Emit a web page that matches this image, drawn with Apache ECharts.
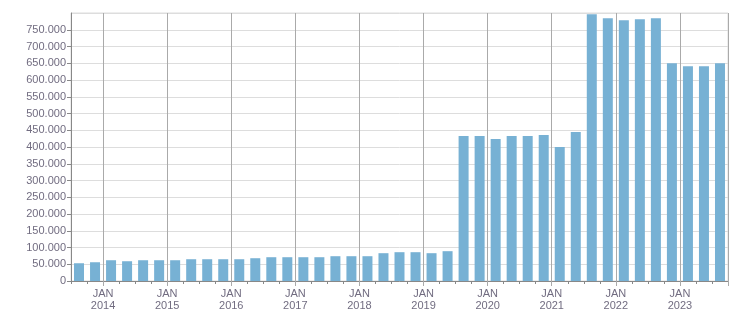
<!DOCTYPE html>
<html>
<head>
<meta charset="utf-8">
<script src="https://cdn.jsdelivr.net/npm/echarts@6/dist/echarts.min.js"></script>
<style>
html,body{margin:0;padding:0;background:#fff;}
#chart{width:751px;height:313px;}
</style>
</head>
<body>
<div id="chart"></div>
<script>
// Quarterly categories (2013 Q3 .. 2023 Q3)
var categories = [
  '2013 Q3','2013 Q4',
  '2014 Q1','2014 Q2','2014 Q3','2014 Q4',
  '2015 Q1','2015 Q2','2015 Q3','2015 Q4',
  '2016 Q1','2016 Q2','2016 Q3','2016 Q4',
  '2017 Q1','2017 Q2','2017 Q3','2017 Q4',
  '2018 Q1','2018 Q2','2018 Q3','2018 Q4',
  '2019 Q1','2019 Q2','2019 Q3','2019 Q4',
  '2020 Q1','2020 Q2','2020 Q3','2020 Q4',
  '2021 Q1','2021 Q2','2021 Q3','2021 Q4',
  '2022 Q1','2022 Q2','2022 Q3','2022 Q4',
  '2023 Q1','2023 Q2','2023 Q3'
];
var values = [
  53000, 56000,
  62000, 59000, 62000, 62000,
  62000, 65000, 65000, 65000,
  65000, 68000, 71000, 71000,
  71000, 71000, 74000, 74000,
  74000, 83000, 86000, 86000,
  83000, 89000, 433000, 433000,
  424000, 433000, 433000, 436000,
  400000, 445000, 796000, 784000,
  778000, 781000, 784000, 650000,
  641000, 641000, 650000
];
var monthLabel = 'JAN';
var yMax = 800000;
var yStep = 50000;

function isQ1(v){ return /Q1$/.test(v); }
function fmt(n){ return String(n).replace(/\B(?=(\d{3})+(?!\d))/g, '.'); }

var textColor = '#716c80';
var chart = echarts.init(document.getElementById('chart'), null, {renderer:'canvas'});
chart.setOption({
  animation: false,
  backgroundColor: '#ffffff',
  grid: {left: 71, right: 23, top: 13, bottom: 32, show: true, borderColor: '#dddddd', borderWidth: 1, containLabel: false},
  xAxis: [{
    type: 'category',
    data: categories,
    boundaryGap: true,
    axisLine: {lineStyle: {color: '#888888', width: 1}},
    axisTick: {show: true, interval: 0, length: 3, lineStyle: {color: '#888888'}},
    axisLabel: {
      show: true,
      interval: function(i, v){ return isQ1(v); },
      formatter: function(v){ return monthLabel + '\n' + v.slice(0,4); },
      color: textColor,
      fontFamily: 'Liberation Sans',
      fontSize: 11,
      lineHeight: 12,
      margin: 7,
      padding: [0, 16, 0, 0]
    },
    splitLine: {show: true, interval: function(i, v){ return isQ1(v); }, lineStyle: {color: '#aaaaaa', width: 1}}
  }, {
    type: 'category',
    data: categories,
    position: 'bottom',
    boundaryGap: true,
    axisLine: {show: false},
    axisTick: {show: true, interval: function(i, v){ return isQ1(v); }, length: 5, lineStyle: {color: '#aaaaaa'}},
    axisLabel: {show: false},
    splitLine: {show: false}
  }],
  yAxis: {
    type: 'value',
    min: 0,
    max: yMax,
    interval: yStep,
    axisLine: {show: true, lineStyle: {color: '#888888'}},
    axisTick: {show: true, length: 4, lineStyle: {color: '#888888'}},
    axisLabel: {
      color: textColor,
      fontFamily: 'Liberation Sans',
      fontSize: 11,
      margin: 5,
      showMaxLabel: false,
      formatter: function(v){ return v === yMax ? '' : fmt(v); }
    },
    splitLine: {show: true, lineStyle: {color: '#dddddd', width: 1}}
  },
  series: [{
    type: 'bar',
    data: values,
    xAxisIndex: 0,
    barWidth: 10,
    itemStyle: {color: '#77b1d4'}
  }]
});
</script>
</body>
</html>
